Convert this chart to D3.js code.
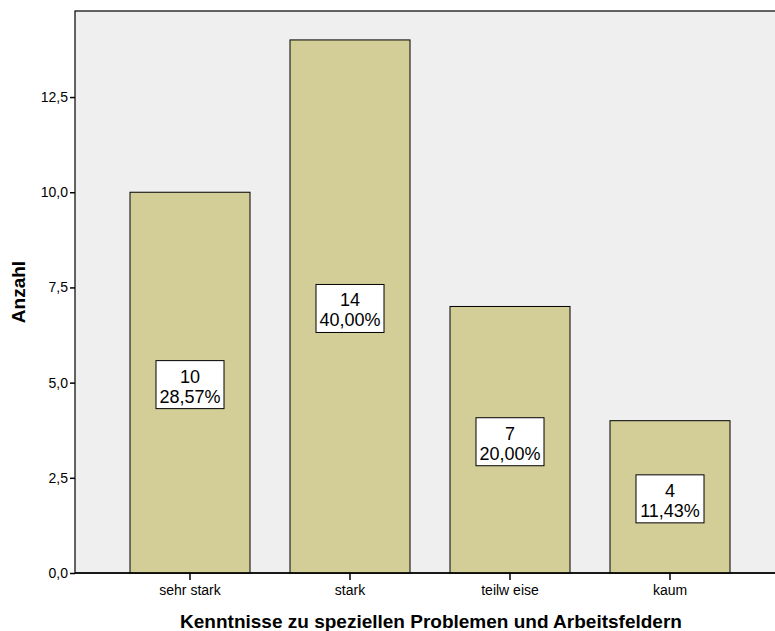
<!DOCTYPE html>
<html>
<head>
<meta charset="utf-8">
<script src="https://cdn.jsdelivr.net/npm/d3@7"></script>
<style>
  body { margin: 0; background: #fff; }
  text { font-family: "Liberation Sans", Arial, sans-serif; }
</style>
</head>
<body>
<div id="chart"></div>
<script>
var width = 775;
var height = 631;

// categories and counts
var categories = ["sehr stark", "stark", "teilw eise", "kaum"];
var counts = [10, 14, 7, 4];
var percents = ["28,57%", "40,00%", "20,00%", "11,43%"];
var yTicks = [0, 2.5, 5, 7.5, 10, 12.5];

var plot = {left: 75, top: 11, right: 790, bottom: 573};

var svg = d3.select("#chart")
  .append("svg")
  .attr("width", width)
  .attr("height", height);

// plot background
svg.append("rect")
  .attr("x", plot.left)
  .attr("y", plot.top)
  .attr("width", plot.right - plot.left)
  .attr("height", plot.bottom - plot.top)
  .attr("fill", "#efefef")
  .attr("stroke", "#000")
  .attr("stroke-width", 1.2);

var xScale = d3.scaleBand()
  .domain(categories)
  .range([110, 750])
  .paddingInner(0.25)
  .paddingOuter(0.125);

var yScale = d3.scaleLinear()
  .domain([0, 14.76])
  .range([plot.bottom, plot.top]);

// bars
svg.append("g")
  .selectAll("rect")
  .data(counts)
  .enter()
  .append("rect")
  .attr("x", function(d, i) { return xScale(categories[i]); })
  .attr("y", function(d) { return yScale(d); })
  .attr("width", xScale.bandwidth())
  .attr("height", function(d) { return plot.bottom - yScale(d); })
  .attr("fill", "#d3ce98")
  .attr("stroke", "#000")
  .attr("stroke-width", 1);

// value labels in boxes
var labels = svg.append("g")
  .selectAll("g")
  .data(counts)
  .enter()
  .append("g")
  .attr("transform", function(d, i) {
    var cx = xScale(categories[i]) + xScale.bandwidth() / 2;
    var cy = yScale(d / 2) + 2;
    return "translate(" + cx + "," + cy + ")";
  });

labels.append("rect")
  .attr("x", -34)
  .attr("y", -24)
  .attr("width", 68)
  .attr("height", 48)
  .attr("fill", "#fff")
  .attr("stroke", "#000")
  .attr("stroke-width", 1);

labels.append("text")
  .attr("y", -2)
  .attr("text-anchor", "middle")
  .style("font-size", "18px")
  .text(function(d) { return d; });

labels.append("text")
  .attr("y", 18)
  .attr("text-anchor", "middle")
  .style("font-size", "18px")
  .text(function(d, i) { return percents[i]; });

// y axis
var yAxis = d3.axisLeft(yScale)
  .tickValues(yTicks)
  .tickSize(5)
  .tickPadding(2)
  .tickFormat(function(d) { return d3.format(".1f")(d).replace(".", ","); });

var yg = svg.append("g")
  .attr("transform", "translate(" + plot.left + ",0)")
  .call(yAxis);
yg.select(".domain").remove();
yg.selectAll("line").attr("stroke", "#000").attr("stroke-width", 1.5);
yg.selectAll("text")
  .style("font-size", "14px")
  .style("font-family", "Liberation Sans, Arial, sans-serif")
  .attr("fill", "#000");

// x axis
var xAxis = d3.axisBottom(xScale)
  .tickSize(7)
  .tickPadding(5);

var xg = svg.append("g")
  .attr("transform", "translate(0," + plot.bottom + ")")
  .call(xAxis);
xg.select(".domain").remove();
xg.selectAll("line").attr("stroke", "#000").attr("stroke-width", 1.5);
xg.selectAll("text")
  .style("font-size", "14px")
  .style("font-family", "Liberation Sans, Arial, sans-serif")
  .attr("fill", "#000");

// axis base line
svg.append("line")
  .attr("x1", plot.left)
  .attr("x2", plot.right)
  .attr("y1", plot.bottom)
  .attr("y2", plot.bottom)
  .attr("stroke", "#000")
  .attr("stroke-width", 1.5);

// axis titles
svg.append("text")
  .attr("x", 431)
  .attr("y", 628)
  .attr("text-anchor", "middle")
  .style("font-size", "19px")
  .style("font-weight", "bold")
  .text("Kenntnisse zu speziellen Problemen und Arbeitsfeldern");

svg.append("text")
  .attr("transform", "translate(25,292) rotate(-90)")
  .attr("text-anchor", "middle")
  .style("font-size", "19px")
  .style("font-weight", "bold")
  .text("Anzahl");
</script>
</body>
</html>
